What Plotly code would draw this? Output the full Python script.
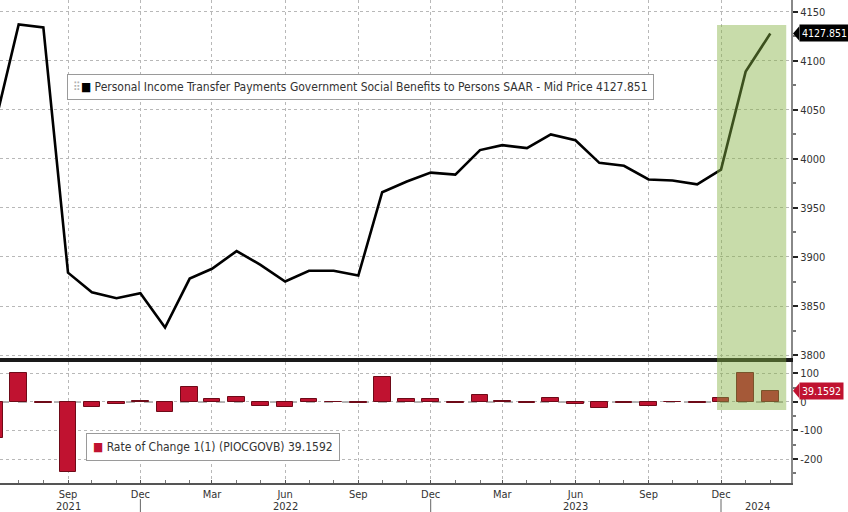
import plotly.graph_objects as go

# ---------------- data ----------------
months = [
    "2021-06-01", "2021-07-01", "2021-08-01", "2021-09-01", "2021-10-01", "2021-11-01", "2021-12-01",
    "2022-01-01", "2022-02-01", "2022-03-01", "2022-04-01", "2022-05-01", "2022-06-01",
    "2022-07-01", "2022-08-01", "2022-09-01", "2022-10-01", "2022-11-01", "2022-12-01",
    "2023-01-01", "2023-02-01", "2023-03-01", "2023-04-01", "2023-05-01", "2023-06-01",
    "2023-07-01", "2023-08-01", "2023-09-01", "2023-10-01", "2023-11-01", "2023-12-01",
    "2024-01-01", "2024-02-01",
]
benefits = [
    4035, 4137, 4134, 3884, 3864, 3858, 3863,
    3828, 3878, 3888, 3906, 3892, 3875,
    3886, 3886, 3881, 3966, 3977, 3986,
    3984, 4009, 4014, 4011, 4025, 4019,
    3996, 3993, 3979, 3978, 3974, 3989,
    4089, 4127.851,
]
rate_of_change = [
    -127, 101, -3, -247, -18, -6, 4,
    -34, 51, 10, 18, -14, -17,
    11, 0, -5, 86, 11, 9,
    -2, 25, 5, -3, 14, -6,
    -20, -3, -13, -1, -4, 15,
    100, 39.1592,
]

x_tick_vals = ["2021-09-01", "2021-12-01", "2022-03-01", "2022-06-01", "2022-09-01",
               "2022-12-01", "2023-03-01", "2023-06-01", "2023-09-01", "2023-12-01"]
x_tick_text = ["Sep", "Dec", "Mar", "Jun", "Sep", "Dec", "Mar", "Jun", "Sep", "Dec"]
year_labels = ["2021", "2022", "2023", "2024"]
year_label_pos = ["2021-09-01", "2022-06-01", "2023-06-01", "2024-01-16"]
year_sep_pos = ["2021-12-01", "2022-12-01", "2023-12-01"]

top_tick_vals = [3800, 3850, 3900, 3950, 4000, 4050, 4100, 4150]
top_tick_text = ["3800", "3850", "3900", "3950", "4000", "4050", "4100", "4150"]
low_tick_vals = [-200, -100, 0, 100]
low_tick_text = ["-200", "-100", "0", "100"]

last_level = benefits[-1]
last_roc = rate_of_change[-1]

# ---------------- styling ----------------
FONT = "DejaVu Sans Condensed, Liberation Sans Narrow, DejaVu Sans, sans-serif"
TXT = "#333333"
GRID = "#b8b8b8"
RED = "#c01230"
PLOT_H = 483.0  # px height of plotting area


def py(p):
    return (PLOT_H - p) / PLOT_H


fig = go.Figure()
fig.add_trace(go.Scatter(
    x=months, y=benefits, mode="lines",
    line=dict(color="black", width=2.6),
    xaxis="x2", yaxis="y2", showlegend=False, hoverinfo="skip",
))
fig.add_trace(go.Bar(
    x=months, y=rate_of_change,
    marker=dict(color=RED, line=dict(color="#6e0a18", width=1)),
    width=21 * 86400000,
    xaxis="x", yaxis="y", showlegend=False, hoverinfo="skip",
))

common_x = dict(
    range=["2021-06-07 12:00", "2024-02-27"],
    tickvals=x_tick_vals,
    showgrid=True, gridcolor=GRID, griddash="dot", gridwidth=1,
    zeroline=False,
)

fig.update_layout(
    width=848, height=512,
    margin=dict(l=0, r=57, t=0, b=29),
    paper_bgcolor="white", plot_bgcolor="white",
    font=dict(family=FONT, size=11, color=TXT),
    bargap=0,
    xaxis=dict(
        **common_x,
        domain=[0, 1], anchor="y",
        ticktext=x_tick_text,
        ticks="inside", ticklen=3, tickcolor="#555", tickwidth=1,
        minor=dict(dtick="M1", tick0="2021-06-01", ticks="inside", ticklen=3,
                   tickcolor="#777", showgrid=False),
        showline=True, linecolor="#555", linewidth=2,
        tickfont=dict(family=FONT, size=11, color=TXT),
    ),
    xaxis2=dict(
        **common_x,
        matches="x", anchor="y2", domain=[0, 1],
        showticklabels=False, ticks="",
        showline=True, linecolor="#1a1a1a", linewidth=4,
    ),
    yaxis=dict(
        domain=[0, 0.2505], anchor="x", side="right",
        range=[-284, 140],
        tickmode="array", tickvals=low_tick_vals, ticktext=low_tick_text,
        ticks="outside", ticklen=5, tickwidth=2, tickcolor="#222",
        minor=dict(dtick=50, tick0=0, ticks="outside", ticklen=3, tickcolor="#777", showgrid=False),
        showgrid=True, gridcolor=GRID, griddash="dot",
        zeroline=False,
        showline=True, linecolor="#888", linewidth=2,
        tickfont=dict(family=FONT, size=11, color=TXT),
    ),
    yaxis2=dict(
        domain=[0.2588, 1], anchor="x2", side="right",
        range=[3797, 4162],
        tickmode="array", tickvals=top_tick_vals, ticktext=top_tick_text,
        ticks="outside", ticklen=5, tickwidth=2, tickcolor="#222",
        minor=dict(dtick=25, tick0=0, ticks="outside", ticklen=3, tickcolor="#777", showgrid=False),
        showgrid=True, gridcolor=GRID, griddash="dot",
        zeroline=False,
        showline=True, linecolor="#888", linewidth=2,
        tickfont=dict(family=FONT, size=11, color=TXT),
    ),
)

shapes = []
# dashed zero line in the lower panel
shapes.append(dict(type="line", xref="paper", yref="y", x0=0, x1=1, y0=0, y1=0,
                   line=dict(color="#9a9a9a", width=1.5, dash="dash"), layer="below"))
# green highlight spanning both panels
shapes.append(dict(type="rect", xref="x", yref="paper",
                   x0="2023-11-26", x1="2024-02-21", y0=py(410), y1=py(25),
                   fillcolor="rgb(133,178,67)", opacity=0.45, line=dict(width=0), layer="above"))
# year separators below the axis
for d in year_sep_pos:
    shapes.append(dict(type="line", xref="x", yref="paper", x0=d, x1=d,
                       y0=py(512), y1=py(499), line=dict(color="#666", width=1)))
# arrow tips of the value tags
shapes.append(dict(type="path", xref="paper", yref="y2",
                   path=f"M 1.0025,{last_level} L 1.0105,{last_level + 7.5} L 1.0105,{last_level - 7.5} Z",
                   fillcolor="black", line=dict(width=0)))
shapes.append(dict(type="path", xref="paper", yref="y",
                   path=f"M 1.0025,{last_roc} L 1.0105,{last_roc + 26} L 1.0105,{last_roc - 26} Z",
                   fillcolor=RED, line=dict(width=0)))
fig.update_layout(shapes=shapes)

annotations = []
# legends
annotations.append(dict(
    xref="paper", yref="paper", x=67 / 791, y=py(87), xanchor="left", yanchor="middle",
    text=('<span style="color:#b0b0b0">⠿</span><span style="color:black">■</span> '
          f'Personal Income Transfer Payments Government Social Benefits to Persons SAAR - Mid Price {last_level:.3f}'),
    showarrow=False, bgcolor="white", bordercolor="#9a9a9a", borderwidth=1, borderpad=5,
    font=dict(family=FONT, size=12, color=TXT),
))
annotations.append(dict(
    xref="paper", yref="paper", x=86 / 791, y=py(447), xanchor="left", yanchor="middle",
    text=(f'<span style="color:{RED}">■</span> Rate of Change 1(1) (PIOCGOVB) {last_roc:.4f}'),
    showarrow=False, bgcolor="white", bordercolor="#9a9a9a", borderwidth=1, borderpad=6,
    font=dict(family=FONT, size=12, color=TXT),
))
# value tags
annotations.append(dict(
    xref="paper", yref="y2", x=1.0105, y=last_level, xanchor="left", yanchor="middle",
    text=f"{last_level:.3f}", showarrow=False, bgcolor="black", borderpad=2,
    font=dict(family=FONT, size=10.5, color="white"),
))
annotations.append(dict(
    xref="paper", yref="y", x=1.0105, y=last_roc, xanchor="left", yanchor="middle",
    text=f"{last_roc:.4f}", showarrow=False, bgcolor=RED, borderpad=2,
    font=dict(family=FONT, size=10.5, color="white"),
))
# year labels
for lbl, d in zip(year_labels, year_label_pos):
    annotations.append(dict(
        xref="x", yref="paper", x=d, y=py(506), xanchor="center", yanchor="middle",
        text=lbl, showarrow=False, font=dict(family=FONT, size=11, color=TXT),
    ))
fig.update_layout(annotations=annotations)

fig.write_html(
    "out.html",
    config={"displayModeBar": False},
    post_script="document.body.style.margin='0';document.body.style.padding='0';",
)
